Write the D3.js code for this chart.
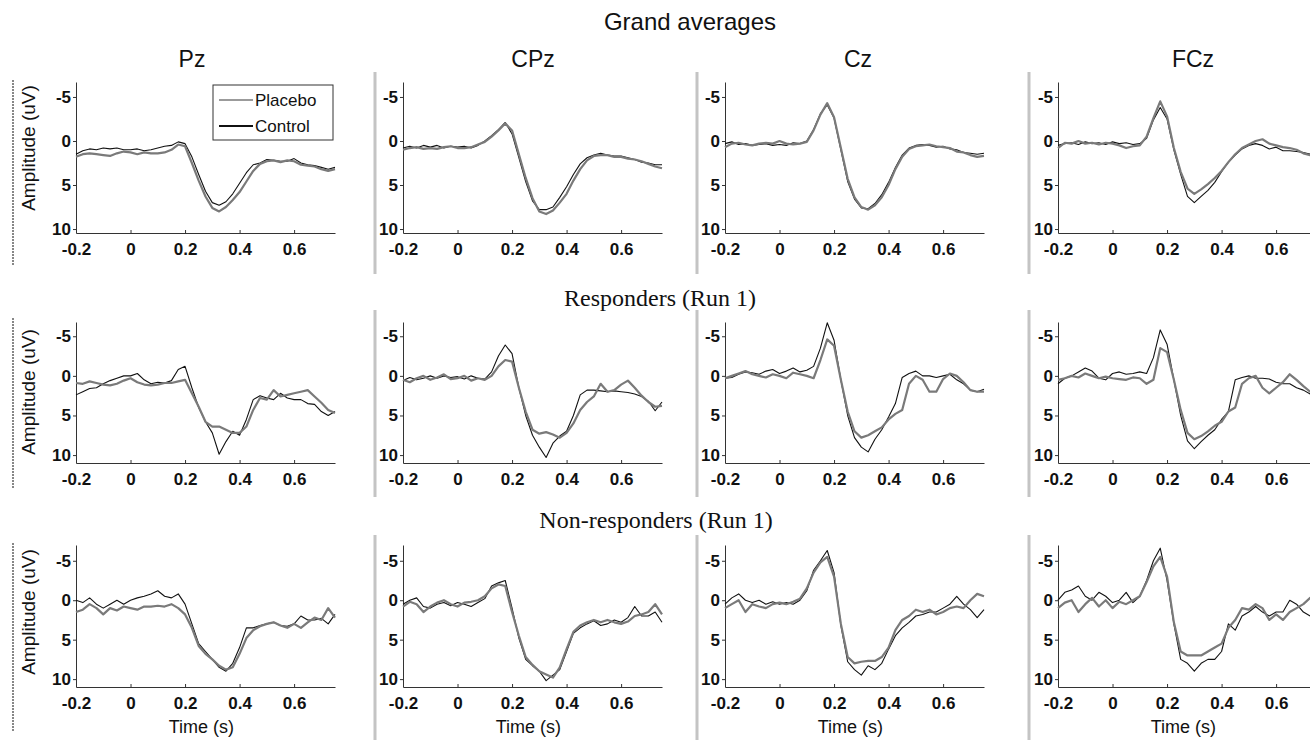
<!DOCTYPE html>
<html>
<head>
<meta charset="utf-8">
<script src="https://cdn.jsdelivr.net/npm/d3@7"></script>
<style>
  html, body { margin: 0; padding: 0; background: #fff; overflow: hidden; }
  svg { display: block; }
</style>
</head>
<body>
<script>
/**
 * ERP grand averages - placebo vs control
 */

// Categories + ticks
const GROUPS     = ['Grand averages', 'Responders (Run 1)', 'Non-responders (Run 1)'];
const ELECTRODES = ['Pz', 'CPz', 'Cz', 'FCz'];
const SERIES     = ['Placebo', 'Control'];
const X_TICKS    = [-0.2, 0, 0.2, 0.4, 0.6];
const Y_TICKS    = [-5, 0, 5, 10];

// Sample times (s), 25 ms apart
const TIMES = d3.range(39).map(i => -0.2 + i * 0.025);

// Values (uV), one value per sample time
// Grand averages
const GA_PZ_PLACEBO  = [1.8,1.5,1.4,1.5,1.6,1.7,1.4,1.2,1.3,1.5,1.3,1.4,1.4,1.3,1.0,0.4,0.6,2.5,4.5,6.3,7.6,8.0,7.5,6.7,5.8,4.6,3.4,2.6,2.3,2.2,2.4,2.2,2.3,2.7,2.8,2.9,3.2,3.4,3.2];
const GA_PZ_CONTROL  = [1.5,1.1,0.9,1.0,0.8,0.9,0.8,1.0,1.0,0.9,1.1,1.0,0.8,0.6,0.5,0.1,0.3,1.8,3.8,5.7,7.0,7.3,6.9,6.0,4.8,3.6,2.7,2.5,2.1,2.2,2.3,2.3,2.0,2.5,2.7,2.8,3.0,3.2,3.0];
const GA_CPZ_PLACEBO = [1.0,0.8,0.7,0.9,0.8,0.9,0.7,0.6,0.8,0.8,0.7,0.4,0.1,-0.5,-1.2,-2.0,-1.2,1.5,4.2,6.5,8.0,8.3,7.9,7.0,6.0,4.5,3.2,2.2,1.7,1.6,1.6,1.8,1.8,2.0,2.1,2.3,2.6,2.9,3.1];
const GA_CPZ_CONTROL = [0.8,0.6,0.8,0.5,0.7,0.5,0.8,0.6,0.7,0.6,0.8,0.5,0.0,-0.6,-1.3,-2.1,-0.8,1.9,4.6,6.8,7.8,7.8,7.5,6.4,5.2,3.8,2.6,1.9,1.6,1.4,1.6,1.7,1.7,1.9,2.1,2.4,2.5,2.7,2.7];
const GA_CZ_PLACEBO  = [0.7,0.3,0.2,0.4,0.5,0.3,0.2,0.3,0.0,0.3,0.4,0.3,0.1,-1.2,-3.0,-4.3,-2.7,0.8,4.3,6.4,7.5,7.8,7.3,6.4,5.0,3.2,1.8,0.9,0.6,0.5,0.4,0.6,0.7,0.8,1.2,1.3,1.6,1.8,1.7];
const GA_CZ_CONTROL  = [0.3,0.1,0.4,0.3,0.5,0.4,0.3,0.5,0.4,0.5,0.2,0.3,0.0,-1.3,-3.1,-4.1,-2.6,1.0,4.6,6.6,7.6,7.7,7.1,6.1,4.7,3.0,1.6,0.8,0.5,0.4,0.5,0.7,0.6,0.9,1.0,1.3,1.4,1.5,1.4];
const GA_FCZ_PLACEBO = [0.8,0.2,0.3,0.0,0.3,0.2,0.4,0.2,0.3,0.5,0.8,0.6,0.5,-0.5,-2.6,-4.5,-2.8,0.8,3.5,5.4,6.0,5.5,4.9,4.2,3.4,2.4,1.5,0.8,0.4,0.0,-0.2,0.3,0.5,0.7,0.8,1.0,1.4,1.6,1.7];
const GA_FCZ_CONTROL = [0.5,0.3,0.2,0.4,0.1,0.3,0.2,0.4,0.1,0.3,0.2,0.4,0.3,-0.3,-2.4,-3.8,-2.5,1.0,3.8,6.3,7.0,6.3,5.6,4.7,3.5,2.4,1.6,0.9,0.5,0.3,0.5,0.9,0.7,1.1,1.1,1.2,1.3,1.5,1.6];

// Responders (Run 1)
const R_PZ_PLACEBO  = [0.9,1.0,0.7,0.9,1.1,1.2,1.0,0.6,0.3,0.8,1.1,1.2,1.1,0.9,0.9,0.7,0.5,2.2,3.9,5.8,6.4,6.4,6.8,7.2,7.2,6.4,4.3,2.8,3.0,1.8,2.6,2.4,2.2,2.0,1.8,2.6,3.4,4.3,4.7];
const R_PZ_CONTROL  = [2.4,2.0,1.6,1.5,1.0,0.6,0.3,0.0,0.0,-0.3,0.5,1.0,0.8,0.9,0.6,-0.8,-1.2,1.5,4.0,5.8,7.2,9.9,8.3,7.0,7.5,5.5,3.0,2.5,2.8,3.0,2.2,2.8,3.0,3.0,3.5,3.6,4.5,5.0,4.5];
const R_CPZ_PLACEBO = [0.5,0.8,0.3,0.0,0.5,0.2,-0.2,0.4,0.3,0.0,0.6,0.3,0.5,0.0,-1.2,-2.0,-1.8,1.5,4.5,6.8,7.3,7.1,7.4,7.8,7.2,6.0,4.3,3.3,2.6,1.0,2.0,1.8,1.1,0.6,1.5,2.5,3.3,3.9,3.8];
const R_CPZ_CONTROL = [0.6,0.2,0.5,0.3,0.0,0.3,0.0,0.2,0.1,0.4,0.0,0.3,0.4,-0.5,-2.5,-3.9,-2.8,1.5,5.0,7.5,9.0,10.3,8.5,7.6,7.0,5.0,2.4,1.8,1.8,1.9,2.0,1.9,2.0,2.1,2.3,2.6,3.2,4.4,3.3];
const R_CZ_PLACEBO  = [0.3,0.0,-0.3,-0.6,-0.2,0.0,0.2,-0.2,0.0,0.3,-0.4,-0.2,0.0,0.3,-2.0,-4.6,-3.8,0.5,4.5,7.0,7.8,7.5,7.0,6.5,5.5,4.8,4.3,1.0,0.0,0.5,2.0,2.0,0.4,-0.3,0.0,0.8,1.8,2.0,2.0];
const R_CZ_CONTROL  = [0.3,0.2,-0.2,-0.5,-0.4,-0.2,-0.6,-0.8,-0.3,-0.6,-1.0,-0.5,-0.7,-1.2,-3.5,-6.7,-4.5,0.5,5.0,7.8,9.0,9.6,8.0,6.8,5.2,3.5,0.2,-0.3,-0.6,0.0,0.0,0.2,0.0,-0.2,0.5,1.0,1.8,2.0,1.7];
const R_FCZ_PLACEBO = [0.5,0.3,0.0,0.2,-0.3,0.0,0.3,0.1,0.3,0.4,0.5,0.2,0.3,1.0,0.5,-3.5,-3.0,0.5,4.3,7.2,8.0,7.6,7.0,6.3,5.8,4.5,4.0,1.0,0.3,0.0,1.5,2.2,1.5,0.8,-0.2,0.5,1.3,2.0,2.4];
const R_FCZ_CONTROL = [1.0,0.3,0.0,-0.5,-1.0,-0.6,0.3,0.5,-0.3,-0.5,-0.2,-0.3,-0.5,-0.3,-2.3,-5.8,-4.0,0.5,5.0,8.2,9.2,8.3,7.5,6.8,5.5,4.5,0.5,0.2,0.0,0.3,0.3,0.4,0.8,1.0,1.0,1.5,1.8,2.3,2.2];

// Non-responders (Run 1)
const N_PZ_PLACEBO  = [1.5,1.2,0.5,1.0,1.8,1.0,1.3,0.8,1.0,1.2,0.8,0.8,0.7,0.8,0.5,1.0,1.8,3.5,5.8,6.8,7.5,8.3,8.8,8.5,6.8,4.8,3.8,3.3,3.0,2.8,3.2,3.5,3.0,3.5,2.8,2.2,2.5,1.0,2.2];
const N_PZ_CONTROL  = [0.0,0.3,-0.3,0.5,1.0,0.5,0.0,0.5,0.0,-0.3,-0.5,-0.8,-1.2,-0.5,-0.3,-0.8,0.5,3.0,5.5,6.5,7.5,8.5,9.0,8.0,6.0,3.5,3.5,3.2,3.0,2.8,3.2,3.3,3.0,2.0,2.5,2.5,2.3,3.0,1.8];
const N_CPZ_PLACEBO = [0.8,0.2,0.5,1.5,0.8,0.3,0.0,0.5,0.8,0.3,0.2,0.0,-0.5,-1.5,-2.0,-1.8,1.5,4.5,7.2,8.2,9.0,9.4,9.8,8.5,6.2,4.0,3.2,2.8,2.5,2.8,2.5,2.8,3.0,2.7,2.0,1.8,1.5,0.5,1.8];
const N_CPZ_CONTROL = [0.5,0.0,-0.3,0.8,1.0,0.5,0.3,0.7,0.3,0.5,0.8,0.3,-0.2,-1.8,-2.2,-2.5,1.0,4.8,7.5,8.3,9.0,10.2,9.5,8.8,6.5,4.2,3.5,3.0,2.6,3.2,3.0,2.5,2.8,2.2,0.8,2.0,2.0,1.5,2.8];
const N_CZ_PLACEBO  = [1.0,0.5,0.0,1.5,0.5,0.8,1.0,0.5,0.3,0.5,0.2,-0.2,-1.5,-3.5,-4.8,-5.5,-3.0,3.0,7.2,8.0,7.8,7.7,7.7,7.2,6.0,3.8,2.5,2.0,1.2,1.5,1.2,1.8,1.5,1.0,0.8,1.0,0.0,-0.8,-0.5];
const N_CZ_CONTROL  = [0.5,-0.3,-0.8,0.0,0.3,0.0,0.5,0.2,0.5,0.3,0.5,0.0,-1.2,-3.8,-5.0,-6.3,-3.5,3.2,7.8,8.8,9.5,8.3,8.8,8.0,6.2,4.5,3.5,2.8,2.0,1.8,1.5,1.5,1.0,0.5,-0.5,0.5,1.2,2.2,1.2];
const N_FCZ_PLACEBO = [1.0,0.3,0.0,1.5,0.5,-0.3,0.8,0.0,1.0,0.2,0.5,0.0,-0.5,-2.3,-4.3,-5.5,-3.0,2.8,6.5,7.0,7.0,7.0,6.5,6.0,5.5,3.5,2.5,1.0,1.2,0.5,1.0,2.5,1.8,2.5,1.5,1.0,0.5,-0.3,-0.5];
const N_FCZ_CONTROL = [0.0,-1.0,-1.3,-1.8,-0.5,0.0,-1.0,-0.5,0.3,0.0,-1.0,0.3,-0.5,-2.5,-5.0,-6.6,-2.5,3.0,7.5,8.0,9.0,8.0,7.5,7.5,6.5,3.0,3.8,2.0,1.5,0.8,1.5,2.0,1.5,1.5,0.0,0.5,1.5,2.0,2.2];

// [group][electrode] -> [Placebo, Control]
const PANELS = [
  [[GA_PZ_PLACEBO, GA_PZ_CONTROL], [GA_CPZ_PLACEBO, GA_CPZ_CONTROL], [GA_CZ_PLACEBO, GA_CZ_CONTROL], [GA_FCZ_PLACEBO, GA_FCZ_CONTROL]],
  [[R_PZ_PLACEBO, R_PZ_CONTROL],   [R_CPZ_PLACEBO, R_CPZ_CONTROL],   [R_CZ_PLACEBO, R_CZ_CONTROL],   [R_FCZ_PLACEBO, R_FCZ_CONTROL]],
  [[N_PZ_PLACEBO, N_PZ_CONTROL],   [N_CPZ_PLACEBO, N_CPZ_CONTROL],   [N_CZ_PLACEBO, N_CZ_CONTROL],   [N_FCZ_PLACEBO, N_FCZ_CONTROL]]
];

// Dimensions
const W = 1310, H = 740;
const COL_LEFT  = [76, 403, 725, 1058];
const COL_TITLE = [192, 533, 858, 1193];
const COL_BAR   = [13, 375, 697, 1029];
const PANEL_W   = 259;
const ROW_TOP    = [82, 322, 545];
const ROW_BOTTOM = [233, 463, 687];
const ROW_YDOM   = [[-6.7, 10.45], [-6.8, 11], [-7, 11]];
const ROW_BAR    = [[72, 274], [310, 497], [535, 740]];
const ROW_YLABEL = [148, 392, 612];

// Colors
const BG = '#ffffff';
const FG = '#111111';
const SERIES_COLOR = { Placebo: '#7a7a7a', Control: '#111111' };
const SERIES_WIDTH = { Placebo: 2.2, Control: 1.1 };

const SANS  = "'Liberation Sans', Arial, Helvetica, sans-serif";
const SERIF = "'Liberation Serif', 'Times New Roman', serif";

// SVG
const svg = d3.select('body').append('svg')
  .attr('width', W)
  .attr('height', H);

svg.append('rect')
  .attr('width', W)
  .attr('height', H)
  .attr('fill', BG);

// Row titles
svg.append('text')
  .attr('x', 690).attr('y', 30)
  .attr('text-anchor', 'middle')
  .attr('font-family', SANS)
  .attr('font-size', '24px')
  .attr('fill', FG)
  .text(GROUPS[0]);

svg.append('text')
  .attr('x', 660).attr('y', 306)
  .attr('text-anchor', 'middle')
  .attr('font-family', SERIF)
  .attr('font-size', '24px')
  .attr('fill', FG)
  .text(GROUPS[1]);

svg.append('text')
  .attr('x', 656).attr('y', 528)
  .attr('text-anchor', 'middle')
  .attr('font-family', SERIF)
  .attr('font-size', '24px')
  .attr('fill', FG)
  .text(GROUPS[2]);

// Electrode titles
ELECTRODES.forEach((name, c) => {
  svg.append('text')
    .attr('x', COL_TITLE[c]).attr('y', 67)
    .attr('text-anchor', 'middle')
    .attr('font-family', SANS)
    .attr('font-size', '23px')
    .attr('fill', FG)
    .text(name);
});

// Separator bars at the left of each panel
ROW_BAR.forEach(([y0, y1]) => {
  COL_BAR.forEach((bx, c) => {
    if (c === 0) {
      svg.append('line')
        .attr('x1', bx).attr('x2', bx)
        .attr('y1', y0 + 8).attr('y2', y1 - 8)
        .attr('stroke', '#555')
        .attr('stroke-width', 1.4)
        .attr('stroke-dasharray', '2,1');
    } else {
      svg.append('rect')
        .attr('x', bx - 1.5).attr('y', y0)
        .attr('width', 3).attr('height', y1 - y0)
        .attr('fill', '#c4c4c4');
    }
  });
});

// axis text style, applied after the axis call (d3 sets its own font)
const styleAxis = g => {
  g.attr('font-family', SANS)
    .attr('font-size', '17px')
    .attr('font-weight', 'bold');
  g.select('.domain').attr('stroke', '#333');
  g.selectAll('.tick line').attr('stroke', '#333');
  g.selectAll('.tick text').attr('fill', FG);
};

// Panels
PANELS.forEach((row, r) => {
  const y = d3.scaleLinear()
    .domain(ROW_YDOM[r])
    .range([ROW_TOP[r], ROW_BOTTOM[r]]);

  row.forEach((pair, c) => {
    const x = d3.scaleLinear()
      .domain([-0.2, 0.75])
      .range([COL_LEFT[c], COL_LEFT[c] + PANEL_W]);

    const g = svg.append('g').attr('class', 'panel');

    // y axis
    g.append('g')
      .attr('transform', `translate(${COL_LEFT[c]},0)`)
      .call(d3.axisLeft(y).tickValues(Y_TICKS).tickFormat(d => String(d)).tickSize(3).tickSizeOuter(0).tickPadding(2))
      .call(styleAxis);

    // x axis, ticks pointing inward
    g.append('g')
      .attr('transform', `translate(0,${ROW_BOTTOM[r]})`)
      .call(d3.axisBottom(x).tickValues(X_TICKS).tickFormat(d => String(+d.toFixed(1))).tickSize(-3).tickSizeOuter(0).tickPadding(10))
      .call(styleAxis);

    // traces
    const line = d3.line()
      .x((d, i) => x(TIMES[i]))
      .y(d => y(d));

    ['Control', 'Placebo'].forEach(s => {
      const vals = pair[SERIES.indexOf(s)];
      g.append('path')
        .datum(vals)
        .attr('fill', 'none')
        .attr('stroke', SERIES_COLOR[s])
        .attr('stroke-width', SERIES_WIDTH[s])
        .attr('stroke-linejoin', 'round')
        .attr('d', line);
    });

    if (r === 2) {
      g.append('text')
        .attr('x', x(0.26)).attr('y', 733)
        .attr('text-anchor', 'middle')
        .attr('font-family', SANS)
        .attr('font-size', '18px')
        .attr('fill', FG)
        .text('Time (s)');
    }
  });

  // y label
  svg.append('text')
    .attr('transform', `translate(35,${ROW_YLABEL[r]}) rotate(-90)`)
    .attr('text-anchor', 'middle')
    .attr('font-family', SANS)
    .attr('font-size', '19px')
    .attr('fill', FG)
    .text('Amplitude (uV)');
});

// Legend (first panel)
const legend = svg.append('g').attr('transform', 'translate(213,85)');
legend.append('rect')
  .attr('width', 120).attr('height', 55)
  .attr('fill', '#fff')
  .attr('stroke', '#333')
  .attr('stroke-width', 1);

SERIES.forEach((s, i) => {
  const ly = 15 + i * 26;
  legend.append('line')
    .attr('x1', 6).attr('x2', 40)
    .attr('y1', ly).attr('y2', ly)
    .attr('stroke', SERIES_COLOR[s])
    .attr('stroke-width', s === 'Control' ? 2.2 : 1.4);
  legend.append('text')
    .attr('x', 42).attr('y', ly + 6)
    .attr('font-family', SANS)
    .attr('font-size', '17px')
    .attr('fill', FG)
    .text(s);
});
</script>
</body>
</html>
